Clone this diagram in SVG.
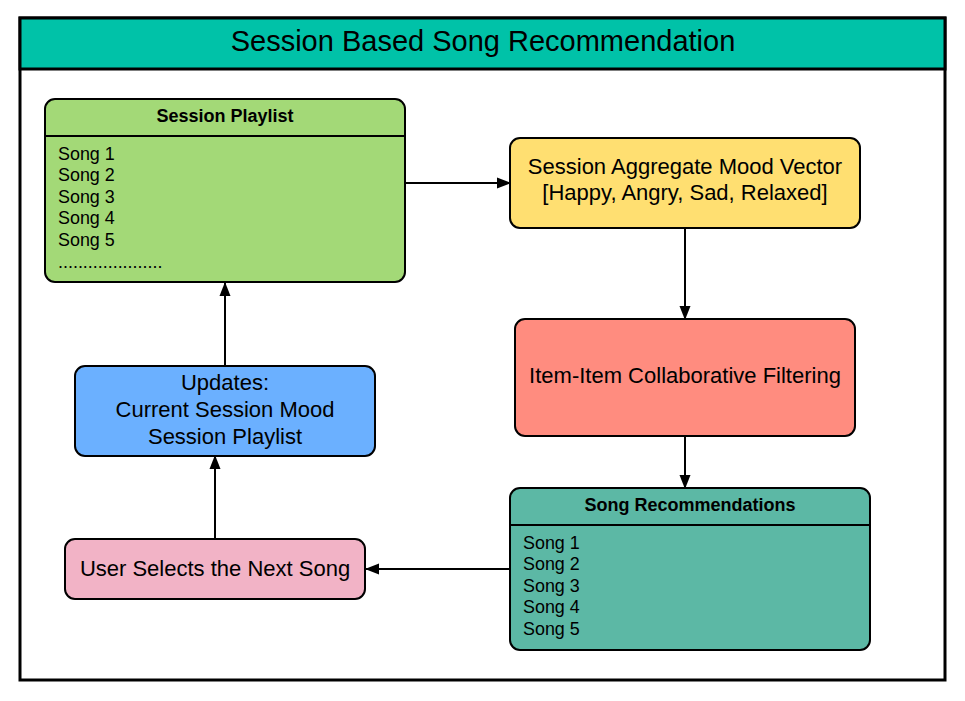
<svg xmlns="http://www.w3.org/2000/svg" width="965" height="701" viewBox="0 0 965 701">
<style>
text{font-family:"Liberation Sans",Arial,sans-serif;fill:#000}
.box{stroke:#000;stroke-width:2}
.hdr{font-weight:bold;font-size:18px;text-anchor:middle}
.item{font-size:17.9px}
.lbl{font-size:22px;text-anchor:middle}
.conn{stroke:#000;stroke-width:2;fill:none;marker-end:url(#arr)}
</style>
<defs>
<marker id="arr" viewBox="0 0 14 12" refX="13" refY="6" markerWidth="14" markerHeight="12" markerUnits="userSpaceOnUse" orient="auto">
<path d="M0,0.5 L14,6 L0,11.5 Z" fill="#000"/>
</marker>
</defs>
<rect x="0" y="0" width="965" height="701" fill="#fff"/>
<g id="frame">
<rect x="20" y="18" width="925" height="662" fill="#fff" stroke="#000" stroke-width="3"/>
<rect x="20" y="18" width="925" height="51" fill="#00C2A8" stroke="#000" stroke-width="3"/>
<text x="483" y="51" font-size="29" text-anchor="middle">Session Based Song Recommendation</text>
</g>
<g id="connectors">
<line class="conn" x1="405" y1="183" x2="510" y2="183"/>
<line class="conn" x1="685" y1="228" x2="685" y2="319"/>
<line class="conn" x1="685" y1="436" x2="685" y2="488"/>
<line class="conn" x1="510" y1="569" x2="366" y2="569"/>
<line class="conn" x1="215" y1="539" x2="215" y2="456"/>
<line class="conn" x1="225" y1="366" x2="225" y2="283"/>
</g>
<g id="session-playlist">
<rect class="box" x="45" y="99" width="360" height="183" rx="10" fill="#A3D977"/>
<line x1="45" y1="136" x2="405" y2="136" stroke="#000" stroke-width="2"/>
<text class="hdr" x="225" y="122">Session Playlist</text>
<text class="item" x="58" y="160">Song 1</text>
<text class="item" x="58" y="181">Song 2</text>
<text class="item" x="58" y="203">Song 3</text>
<text class="item" x="58" y="224">Song 4</text>
<text class="item" x="58" y="246">Song 5</text>
<text class="item" x="58" y="268">.....................</text>
</g>
<g id="mood-vector">
<rect class="box" x="510" y="138" width="350" height="90" rx="10" fill="#FFDF71"/>
<text class="lbl" x="685" y="174">Session Aggregate Mood Vector</text>
<text class="lbl" x="685" y="200">[Happy, Angry, Sad, Relaxed]</text>
</g>
<g id="cf">
<rect class="box" x="515" y="319" width="340" height="117" rx="10" fill="#FF8C7F"/>
<text class="lbl" x="685" y="383">Item-Item Collaborative Filtering</text>
</g>
<g id="song-recs">
<rect class="box" x="510" y="488" width="360" height="162" rx="10" fill="#5CB8A5"/>
<line x1="510" y1="525" x2="870" y2="525" stroke="#000" stroke-width="2"/>
<text class="hdr" x="690" y="511">Song Recommendations</text>
<text class="item" x="523" y="549">Song 1</text>
<text class="item" x="523" y="570">Song 2</text>
<text class="item" x="523" y="592">Song 3</text>
<text class="item" x="523" y="613">Song 4</text>
<text class="item" x="523" y="635">Song 5</text>
</g>
<g id="user-selects">
<rect class="box" x="65" y="539" width="300" height="60" rx="10" fill="#F2B3C6"/>
<text class="lbl" x="215" y="576">User Selects the Next Song</text>
</g>
<g id="updates">
<rect class="box" x="75" y="366" width="300" height="90" rx="10" fill="#6BB0FF"/>
<text class="lbl" x="225" y="390">Updates:</text>
<text class="lbl" x="225" y="417">Current Session Mood</text>
<text class="lbl" x="225" y="444">Session Playlist</text>
</g>
</svg>
